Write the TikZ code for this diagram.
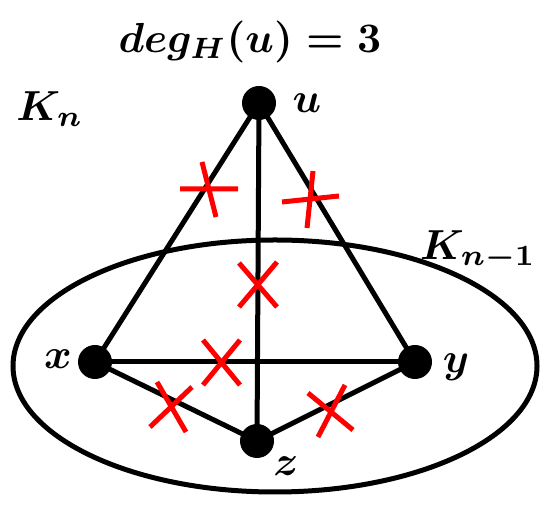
\documentclass[tikz,border=0pt]{standalone}
\usepackage{amsmath, amssymb}
\usepackage{tikz}
\usetikzlibrary{calc}
\usepackage{tkz-euclide}

\tikzset{
  edge/.style={black, line width=5pt},
  cut/.style={red, line width=5pt},
  vlabel/.style={font=\boldmath, inner sep=0pt, scale=4.2}
}

\begin{document}
\begin{tikzpicture}[x=1pt, y=1pt]
            \useasboundingbox (0,0) rectangle (551,505);
            \tkzDefPoints{259/402/u, 95/143/x, 415/143/y, 257/64/z}
            \draw[edge] (275,139) ellipse (262 and 126);
            \tkzDrawSegments[edge](u,x u,y u,z x,y x,z z,y)
            % crossed out edges
            \draw[cut] (180,316) -- (238,316) (202,343) -- (216,288);
            \draw[cut] (282,303) -- (339,309) (313,334) -- (307,277);
            \draw[cut] (239,242) -- (277,198) (277,243) -- (239,198);
            \draw[cut] (203,165) -- (240,120) (240,165) -- (203,120);
            \draw[cut] (157,123) -- (186,73) (192,118) -- (150,78);
            \draw[cut] (308,112) -- (353,75) (345,120) -- (318,68);
            \foreach \p in {u,x,y,z}
              \fill (\p) circle (17);
            \node[vlabel] (lu) at (307,402) {$u$};
            \node[vlabel] (lx) at (58,146) {$x$};
            \node[vlabel] (ly) at (456,138) {$y$};
            \node[vlabel] (lz) at (286,39) {$z$};
            \node[vlabel] (kn) at (50,396) {$K_n$};
            \node[vlabel] (knm) at (478,254) {$K_{n-1}$};
            \node[vlabel] (deg) at (250,463) {$deg_H(u) = 3$};
        \end{tikzpicture}
\end{document}
